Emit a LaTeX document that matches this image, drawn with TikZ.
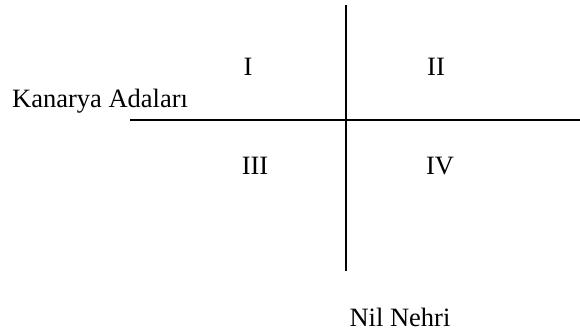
\documentclass[tikz,border=0pt]{standalone}
\usepackage{fontspec}
\setmainfont{Liberation Serif}
\begin{document}
\begin{tikzpicture}[x=1pt,y=-1pt,
  axis/.style={line width=2pt,black},
  lbl/.style={inner sep=0pt,font=\fontsize{26.5}{30}\selectfont}]
\useasboundingbox (0,0) rectangle (580,331);
\coordinate (vt) at (346,5);
\coordinate (vb) at (346,271);
\coordinate (hl) at (130,120);
\coordinate (hr) at (580,120);
\draw[axis] (vt) -- (vb);
\draw[axis] (hl) -- (hr);
\node[lbl] (q1) at (248,67) {I};
\node[lbl] (q2) at (436,67) {II};
\node[lbl] (q3) at (255,166) {III};
\node[lbl] (q4) at (440,166) {IV};
\node[lbl,anchor=west] (kan) at (12,101) {Kanarya Adaları};
\node[lbl] (nil) at (400,317) {Nil Nehri};
\end{tikzpicture}
\end{document}
